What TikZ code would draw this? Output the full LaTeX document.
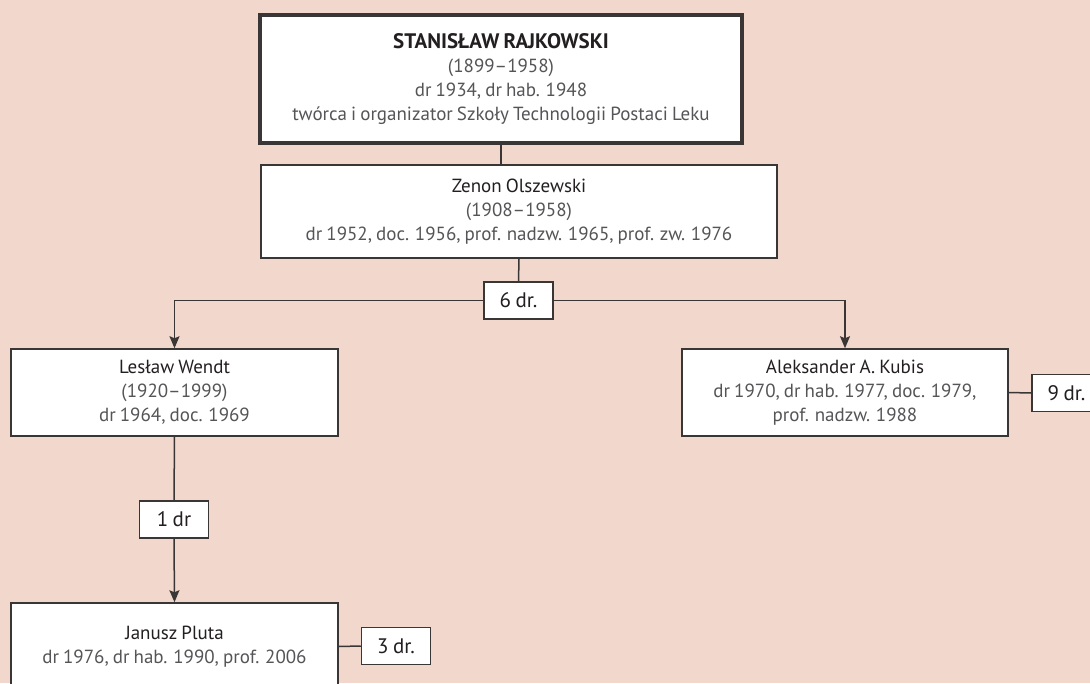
\documentclass[tikz,border=0pt]{standalone}
\usepackage{fontspec}
\setmainfont{PT Sans}[WordSpace=0.8]
\usetikzlibrary{positioning,arrows.meta,calc}
\definecolor{bgcol}{RGB}{242,215,205}
\definecolor{namecol}{RGB}{35,31,32}
\definecolor{infocol}{RGB}{85,85,88}
\definecolor{linecol}{RGB}{58,54,54}

\begin{document}
\begin{tikzpicture}[
  x=1pt, y=-1pt,
  every node/.style={font=\fontsize{19}{24}\selectfont, text=namecol},
  %% white person box  \node[person=<w>/<h>]{...}
  person/.style args={#1/#2}{
    draw=linecol, fill=white, line width=1.5pt,
    minimum width=#1pt, minimum height=#2pt,
    align=center, inner sep=0pt
  },
  %% small count box
  count/.style={
    draw=linecol, fill=white, line width=1.5pt,
    minimum width=69pt, minimum height=37pt,
    inner sep=0pt, font=\fontsize{21}{24}\selectfont
  },
  %% connectors
  lnk/.style={draw=linecol, line width=1.5pt},
  arr/.style={lnk, -{Stealth[length=12pt,width=10pt,inset=2pt]}},
]

%%── Page background and frame ───────────────────────────────────────────────
\fill[bgcol] (0,0) rectangle (1090,683);
\useasboundingbox (0,0) rectangle (1090,683);
\clip (0,0) rectangle (1090,683);

%%── Founder ──────────────────────────────────────────────────────────────────
\node[person=482/128, line width=4pt] (raj) at (501,79)
  {{\fontsize{21}{24}\selectfont\bfseries STANISŁAW RAJKOWSKI}\\
   \textcolor{infocol}{(1899–1958)}\\
   \textcolor{infocol}{dr 1934, dr hab. 1948}\\
   \textcolor{infocol}{twórca i organizator Szkoły Technologii Postaci Leku}};

%%── Second generation ────────────────────────────────────────────────────────
\node[person=516/93] (ols) at (519,211.5)
  {Zenon Olszewski\\
   \textcolor{infocol}{(1908–1958)}\\
   \textcolor{infocol}{dr 1952, doc. 1956, prof. nadzw. 1965, prof. zw. 1976}};

\node[count] (ols6) at (518.5,300.5) {6 dr.};

%%── Third generation ─────────────────────────────────────────────────────────
\node[person=327/87] (wen) at (174.5,392.5)
  {Lesław Wendt\\
   \textcolor{infocol}{(1920–1999)}\\
   \textcolor{infocol}{dr 1964, doc. 1969}};

\node[person=326/87] (kub) at (845,392.5)
  {Aleksander A. Kubis\\
   \textcolor{infocol}{dr 1970, dr hab. 1977, doc. 1979,}\\
   \textcolor{infocol}{prof. nadzw. 1988}};

\node[count] (kub9) at (1066.5,393) {9 dr.};

\node[count] (wen1) at (174,519.5) {1 dr};

%%── Fourth generation ────────────────────────────────────────────────────────
\node[person=327/87] (plu) at (174.5,646.5)
  {Janusz Pluta\\
   \textcolor{infocol}{dr 1976, dr hab. 1990, prof. 2006}};

\node[count] (plu3) at (396,646) {3 dr.};

%%── Connectors ───────────────────────────────────────────────────────────────
\draw[lnk] (raj.south) -- (raj.south |- ols.north);
\draw[lnk] (ols.south) -- (ols6.north);
\draw[arr] (ols6.west) -| (wen.north);
\draw[arr] (ols6.east) -| (kub.north);
\draw[lnk] (kub.east)  -- (kub9.west);
\draw[lnk] (wen.south) -- (wen1.north);
\draw[arr] (wen1.south) -- (plu.north);
\draw[lnk] (plu.east)  -- (plu3.west);

\end{tikzpicture}
\end{document}
